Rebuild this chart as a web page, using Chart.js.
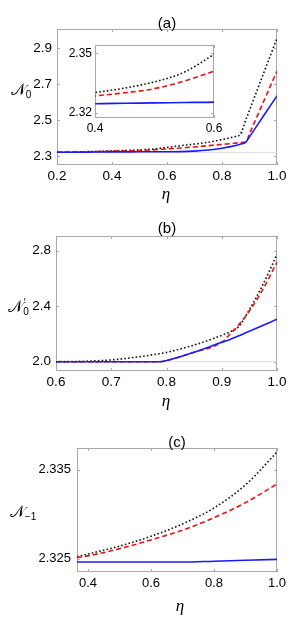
<!DOCTYPE html>
<html>
<head>
<meta charset="utf-8">
<script src="https://cdn.jsdelivr.net/npm/chart.js@4.4.1/dist/chart.umd.min.js"></script>
<style>
  body { margin: 0; background: #fff; }
  #wrap { position: relative; width: 298px; height: 628px; overflow: hidden; background: #fff;
          font-family: "Liberation Sans", Arial, sans-serif; color: #000; }
  canvas { position: absolute; }
  .lbl { position: absolute; transform: translate(-50%, -50%); white-space: nowrap; line-height: 1; }
  .ttl { font-size: 15px; }
  .eta { font-family: "Liberation Serif", "DejaVu Serif", serif; font-style: italic; font-size: 17px; }
  .ylab { font-size: 16px; }
  .ylab .cal { font-family: "DejaVu Serif", "DejaVu Sans", serif; }
  .ylab sub { font-size: 10px; vertical-align: -3px; }
  .ylab sup { font-size: 10px; vertical-align: 6px; }
</style>
</head>
<body>
<div id="wrap">
  <canvas id="cA" width="298" height="205" style="left:0;top:0"></canvas>
  <canvas id="cIn" width="170" height="100" style="left:60px;top:35px"></canvas>
  <canvas id="cB" width="298" height="205" style="left:0;top:205px"></canvas>
  <canvas id="cC" width="298" height="218" style="left:0;top:410px"></canvas>

  <div class="lbl ttl" style="left:167px;top:22px">(a)</div>
  <div class="lbl ttl" style="left:167px;top:227px">(b)</div>
  <div class="lbl ttl" style="left:177px;top:441px">(c)</div>

  <div class="lbl eta" style="left:166px;top:193px">η</div>
  <div class="lbl eta" style="left:166px;top:400px">η</div>
  <div class="lbl eta" style="left:180px;top:605px">η</div>

  <div class="lbl ylab" style="left:21px;top:91px"><span class="cal">𝒩</span><sub>0</sub></div>
  <div class="lbl ylab" style="left:17px;top:307px"><span class="cal">𝒩</span><sub style="margin-right:-5px">0</sub><sup>′</sup></div>
  <div class="lbl ylab" style="left:23px;top:513px"><span class="cal">𝒩</span><sub>−1</sub></div>
</div>

<script>
// panel (a): N_0 vs eta (also used by the inset)
const etaA   = [0.2, 0.3, 0.4, 0.45, 0.5, 0.55, 0.6, 0.65, 0.7, 0.75, 0.8, 0.85, 0.866, 0.887, 0.9, 0.95, 1.0];
const blackA = [2.3232, 2.3255, 2.3302, 2.3325, 2.3356, 2.3405, 2.3495, 2.359, 2.368, 2.378, 2.393, 2.410, 2.420, 2.504, 2.555, 2.755, 2.954];
const redA   = [2.3228, 2.3245, 2.3285, 2.3301, 2.3322, 2.336, 2.341, 2.346, 2.352, 2.359, 2.366, 2.373, 2.376, 2.380, 2.425, 2.599, 2.772];
const blueA  = [2.3226, 2.3234, 2.3246, 2.3248, 2.3250, 2.3252, 2.3254, 2.326, 2.329, 2.335, 2.345, 2.360, 2.367, 2.379, 2.408, 2.522, 2.635];
const refA = 2.3219;
const xTicksA = [0.2, 0.4, 0.6, 0.8, 1.0];
const yTicksA = [2.3, 2.5, 2.7, 2.9];
const xTicksIn = [0.4, 0.6];
const yTicksIn = [2.32, 2.35];

// panel (b): N_0' vs eta
const etaB   = [0.6, 0.65, 0.7, 0.75, 0.788, 0.8, 0.85, 0.9, 0.915, 0.93, 0.95, 0.975, 1.0];
const blackB = [2.0, 2.003, 2.013, 2.035, 2.058, 2.067, 2.12, 2.19, 2.215, 2.25, 2.375, 2.56, 2.774];
const redB   = [2.0, 2.0, 2.0, 2.0, 2.0, 2.008, 2.068, 2.14, 2.2, 2.262, 2.365, 2.525, 2.718];
const blueB  = [2.0, 2.0, 2.0, 2.0, 2.0, 2.008, 2.068, 2.14, 2.16, 2.185, 2.22, 2.263, 2.306];
const refB = 2.0;
const xTicksB = [0.6, 0.7, 0.8, 0.9, 1.0];
const yTicksB = [2.0, 2.4, 2.8];

// panel (c): N_-1 vs eta
const etaC   = [0.365, 0.4, 0.5, 0.6, 0.7, 0.8, 0.9, 1.0];
const blackC = [2.3252, 2.3255, 2.3264, 2.3275, 2.3289, 2.3307, 2.3333, 2.337];
const redC   = [2.3251, 2.3253, 2.3261, 2.3271, 2.3282, 2.3296, 2.3313, 2.3334];
const blueC  = [2.3246, 2.3246, 2.3246, 2.3246, 2.3246, 2.3247, 2.3248, 2.3249];
const xTicksC = [0.4, 0.6, 0.8, 1.0];
const yTicksC = [2.325, 2.335];

const FRAME = '#a8a8a8';

// Mathematica-like frame with small inward ticks
const framePlugin = {
  id: 'frame',
  beforeDatasetsDraw(chart) {
    const { ctx, chartArea: a, scales } = chart;
    ctx.save();
    ctx.strokeStyle = FRAME;
    ctx.lineWidth = 1;
    ctx.strokeRect(Math.round(a.left) + 0.5, Math.round(a.top) + 0.5,
                   Math.round(a.width) - 1, Math.round(a.height) - 1);
    ctx.beginPath();
    scales.x.ticks.forEach(t => {
      const px = Math.round(scales.x.getPixelForValue(t.value)) + 0.5;
      ctx.moveTo(px, a.bottom); ctx.lineTo(px, a.bottom - 3);
      ctx.moveTo(px, a.top); ctx.lineTo(px, a.top + 3);
    });
    scales.y.ticks.forEach(t => {
      const py = Math.round(scales.y.getPixelForValue(t.value)) + 0.5;
      ctx.moveTo(a.left, py); ctx.lineTo(a.left + 3, py);
      ctx.moveTo(a.right, py); ctx.lineTo(a.right - 3, py);
    });
    ctx.stroke();
    ctx.restore();
  }
};

function pts(xs, ys) { return xs.map((x, i) => ({ x, y: ys[i] })); }

function series(xs, black, red, blue, ref) {
  const ds = [
    { data: pts(xs, blue), borderColor: '#1a1aff', borderWidth: 1.6 },
    { data: pts(xs, red), borderColor: '#ee1111', borderWidth: 1.6, borderDash: [5, 3] },
    { data: pts(xs, black), borderColor: '#111', borderWidth: 1.6, borderDash: [1.6, 2.2] }
  ];
  if (ref !== undefined) {
    ds.push({ data: [{ x: xs[0], y: ref }, { x: xs[xs.length - 1], y: ref }],
              borderColor: '#dcdcdc', borderWidth: 1 });
  }
  return ds.map(d => Object.assign({ pointRadius: 0, fill: false, cubicInterpolationMode: 'monotone' }, d));
}

function makeChart(id, cfg) {
  return new Chart(document.getElementById(id), {
    type: 'line',
    data: { datasets: series(cfg.x, cfg.black, cfg.red, cfg.blue, cfg.ref) },
    options: {
      responsive: false,
      animation: false,
      events: [],
      layout: { padding: cfg.pad },
      plugins: { legend: { display: false }, tooltip: { enabled: false } },
      scales: {
        x: {
          type: 'linear', min: cfg.xmin, max: cfg.xmax,
          border: { display: false },
          grid: { display: false, drawTicks: false },
          afterBuildTicks: s => { s.ticks = cfg.xt.map(v => ({ value: v })); },
          afterFit: s => { s.height = cfg.xh; s.paddingLeft = 0; s.paddingRight = 0; },
          ticks: { color: '#000', padding: cfg.xpad, maxRotation: 0, autoSkip: false,
                   font: { size: cfg.fs, family: '"Liberation Sans", Arial, sans-serif' },
                   callback: v => v.toFixed(1) }
        },
        y: {
          type: 'linear', min: cfg.ymin, max: cfg.ymax,
          border: { display: false },
          grid: { display: false, drawTicks: false },
          afterBuildTicks: s => { s.ticks = cfg.yt.map(v => ({ value: v })); },
          afterFit: s => { s.width = cfg.yw; s.paddingTop = 0; s.paddingBottom = 0; },
          ticks: { color: '#000', padding: cfg.ypad, autoSkip: false,
                   font: { size: cfg.fs, family: '"Liberation Sans", Arial, sans-serif' },
                   callback: v => v.toFixed(cfg.yd) }
        }
      }
    },
    plugins: [framePlugin]
  });
}

makeChart('cA', {
  x: etaA, black: blackA, red: redA, blue: blueA, ref: refA,
  xmin: 0.2, xmax: 1.0, ymin: 2.252, ymax: 3.005, xt: xTicksA, yt: yTicksA, yd: 1,
  pad: { left: 0, top: 29, right: 21, bottom: 0 }, yw: 57, xh: 40, xpad: 3, ypad: 5, fs: 13.5
});

makeChart('cIn', {
  x: etaA, black: blackA, red: redA, blue: blueA,
  xmin: 0.4, xmax: 0.6, ymin: 2.3174, ymax: 2.3542, xt: xTicksIn, yt: yTicksIn, yd: 2,
  pad: { left: 0, top: 10, right: 16, bottom: 0 }, yw: 35, xh: 17, xpad: 3, ypad: 3, fs: 12
});

makeChart('cB', {
  x: etaB, black: blackB, red: redB, blue: blueB, ref: refB,
  xmin: 0.6, xmax: 1.0, ymin: 1.933, ymax: 2.906, xt: xTicksB, yt: yTicksB, yd: 1,
  pad: { left: 0, top: 31, right: 21, bottom: 0 }, yw: 56, xh: 39, xpad: 3, ypad: 5, fs: 13.5
});

makeChart('cC', {
  x: etaC, black: blackC, red: redC, blue: blueC,
  xmin: 0.365, xmax: 1.0, ymin: 2.32348, ymax: 2.33746, xt: xTicksC, yt: yTicksC, yd: 3,
  pad: { left: 0, top: 38, right: 21, bottom: 0 }, yw: 77, xh: 56, xpad: 4, ypad: 6, fs: 13
});
</script>
</body>
</html>
